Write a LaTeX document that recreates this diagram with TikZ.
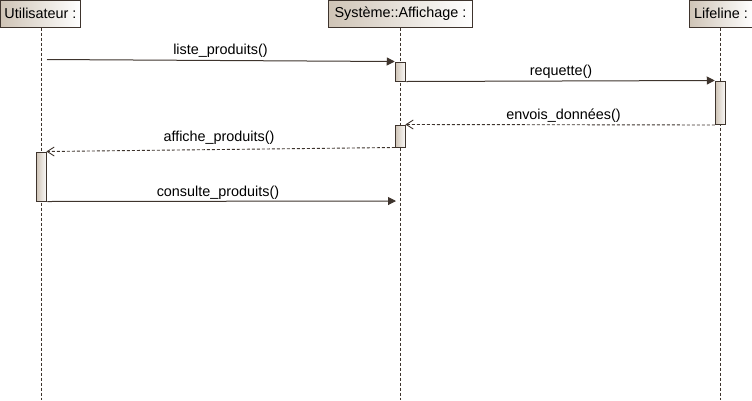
\documentclass[tikz,border=0pt]{standalone}
\usepackage{fontspec}
\setmainfont{Liberation Sans}
\usetikzlibrary{arrows.meta}
\definecolor{umlline}{HTML}{3E342D}
\definecolor{umltan}{HTML}{CFC4B6}
\tikzset{
  headbox/.style={draw=umlline, line width=1pt, left color=umltan, right color=white,
    minimum height=27pt, inner sep=0pt, font=\fontsize{14.4}{16}\selectfont},
  actbox/.style={draw=umlline, line width=1pt, left color=umltan, right color=white!95!umltan,
    minimum width=10.5pt, inner sep=0pt},
  life/.style={draw=umlline, line width=0.9pt, dash pattern=on 3pt off 2pt},
  syncmsg/.style={draw=umlline, line width=1pt, -{Triangle[length=8pt,width=8pt]}},
  retline/.style={draw=umlline, line width=0.9pt, dash pattern=on 3pt off 2pt},
  barb/.style={draw=umlline, line width=0.9pt},
  lbl/.style={anchor=base, inner sep=0pt, text=black, font=\fontsize{14.4}{16}\selectfont}
}
\begin{document}
\begin{tikzpicture}[x=1pt,y=-1pt]
\useasboundingbox (0,0) rectangle (752,400);
% heads
\node[headbox, minimum width=80pt] (u) at (40.5,13.5) {Utilisateur :};
\node[headbox, minimum width=144pt] (s) at (400.5,13.5) {Système::Affichage :};
\node[headbox, minimum width=64pt] (l) at (721,13.5) {Lifeline :};
% lifeline ends
\coordinate (ue) at (41,400);
\coordinate (se) at (400.5,400);
\coordinate (le) at (720.5,400);
\draw[life] (u.south -| ue) -- (ue);
\draw[life] (s.south -| se) -- (se);
\draw[life] (l.south -| le) -- (le);
% activations
\node[actbox, minimum height=19pt] (a1) at (400.5,71.5) {};
\node[actbox, minimum height=43.5pt] (a2) at (720.5,102.75) {};
\node[actbox, minimum height=22pt] (a3) at (400.5,136) {};
\node[actbox, minimum height=49pt] (a4) at (41.5,176.5) {};
% messages
\coordinate (m1s) at (47,59.5);
\draw[syncmsg] (m1s) -- (a1.north west);
\node[lbl] at (220.5,54) {liste\_produits()};
\draw[syncmsg] (a1.south east) -- (a2.north west);
\node[lbl] at (561,75) {requette()};
\draw[retline] (a2.south west) -- (a3.north east);
\draw[barb] ([xshift=7pt,yshift=-4.5pt]a3.north east) -- (a3.north east) -- ([xshift=7pt,yshift=4.5pt]a3.north east);
\node[lbl] at (563.5,119) {envois\_données()};
\draw[retline] (a3.south west) -- (a4.north east);
\draw[barb] ([xshift=7pt,yshift=-4.5pt]a4.north east) -- (a4.north east) -- ([xshift=7pt,yshift=4.5pt]a4.north east);
\node[lbl] at (219,141.7) {affiche\_produits()};
\coordinate (m5e) at (396,201);
\draw[syncmsg] (a4.south east) -- (m5e);
\node[lbl] at (218,196.5) {consulte\_produits()};
\end{tikzpicture}
\end{document}
